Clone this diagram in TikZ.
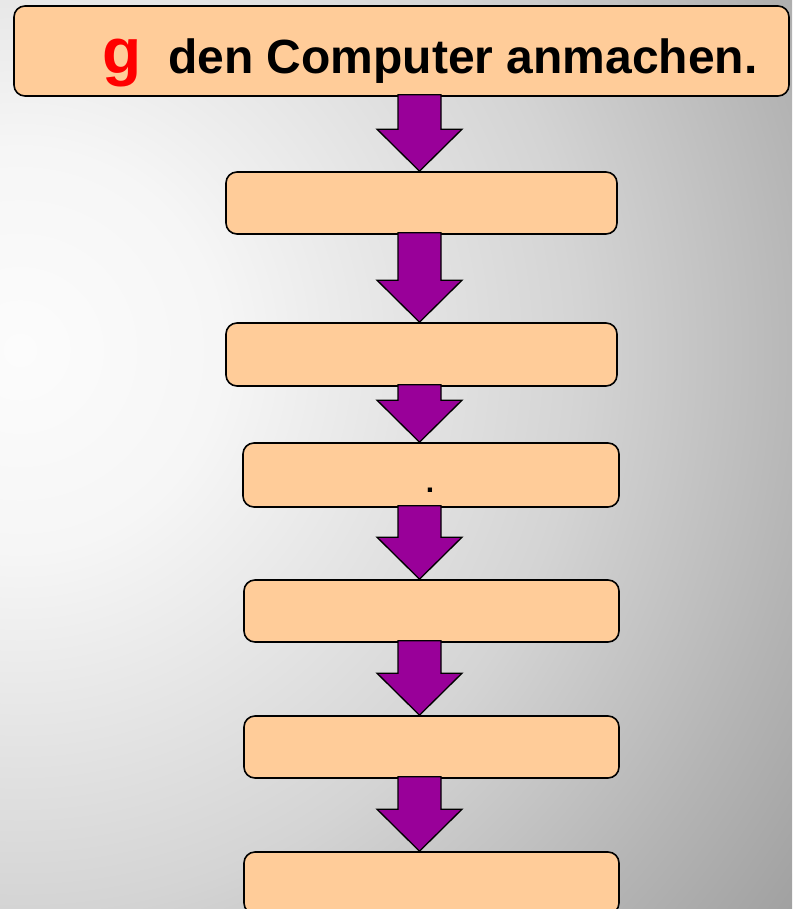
\documentclass[tikz,border=0pt]{standalone}
\usepackage{fontspec}
\setmainfont{Liberation Sans}
\usetikzlibrary{calc}
\definecolor{peach}{RGB}{255,204,153}
\definecolor{purp}{RGB}{153,0,153}
\definecolor{bgA}{RGB}{252,252,252}
\definecolor{bgB}{RGB}{246,246,246}
\definecolor{bgC}{RGB}{212,212,212}
\definecolor{bgD}{RGB}{180,180,180}
\definecolor{bgE}{RGB}{160,160,160}
\definecolor{bgF}{RGB}{155,155,155}
\pgfdeclareradialshading{bgshade}{\pgfpoint{0bp}{0bp}}{color(0bp)=(bgA); color(5bp)=(bgB); color(14bp)=(bgC); color(20bp)=(bgD); color(24bp)=(bgE); color(25bp)=(bgF); color(50bp)=(bgF)}
\newcommand{\flowarrow}[2]{%
  \draw[blockarrow] ($(#1.south -| ax)+(-21.5,-2)$) -- ($(#1.south -| ax)+(21.5,-2)$)
    -- ($(#2.north -| ax)+(21.5,-42)$) -- ($(#2.north -| ax)+(42.5,-42)$)
    -- (#2.north -| ax) -- ($(#2.north -| ax)+(-42.5,-42)$)
    -- ($(#2.north -| ax)+(-21.5,-42)$) -- cycle;}
\begin{document}
\begin{tikzpicture}[x=1pt,y=-1pt,
  box/.style={draw=black, line width=1.6pt, fill=peach, rounded corners=11pt, inner sep=0pt},
  blockarrow/.style={draw=black, line width=1.3pt, fill=purp, line join=miter},
  txt/.style={inner sep=0pt, font=\bfseries}]
\useasboundingbox (0,0) rectangle (792,909);
\begin{scope}
  \clip (0,0) rectangle (792,909);
  \shade[shading=bgshade] (-980,-650) rectangle (1020,1350);
\end{scope}
\coordinate (ax) at (419.5,0);
\node[box, minimum width=775pt, minimum height=90pt] (b1) at (401.5,51) {};
\node[box, minimum width=391pt, minimum height=62pt] (b2) at (421.5,203) {};
\node[box, minimum width=391pt, minimum height=63pt] (b3) at (421.5,354.5) {};
\node[box, minimum width=376pt, minimum height=64pt] (b4) at (431,475) {};
\node[box, minimum width=375pt, minimum height=62pt] (b5) at (431.5,611) {};
\node[box, minimum width=375pt, minimum height=62pt] (b6) at (431.5,747) {};
\node[box, minimum width=375pt, minimum height=62pt] (b7) at (431.5,883) {};
\flowarrow{b1}{b2}
\flowarrow{b2}{b3}
\flowarrow{b3}{b4}
\flowarrow{b4}{b5}
\flowarrow{b5}{b6}
\flowarrow{b6}{b7}
\node[txt, anchor=base west, text=red, font=\fontsize{64}{64}\selectfont\bfseries] (tg) at (102,74) {g};
\node[txt, anchor=base west, font=\fontsize{48}{48}\selectfont\bfseries] (tt) at (168,74) {den Computer anmachen.};
\node[txt, anchor=base, font=\fontsize{30}{30}\selectfont\bfseries] (dot) at (430,492) {.};
\end{tikzpicture}
\end{document}
